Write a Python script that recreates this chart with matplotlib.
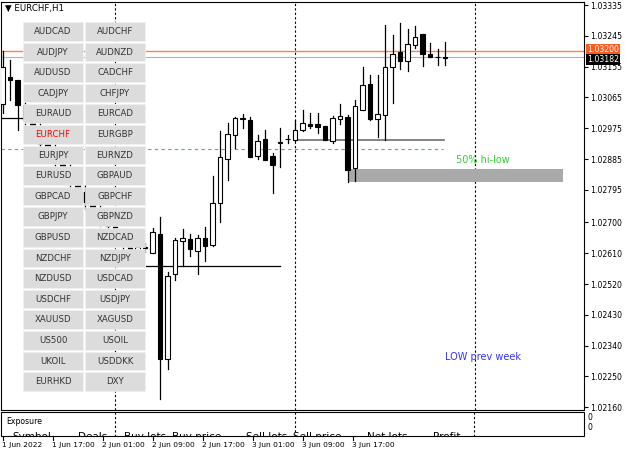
import numpy as np
import matplotlib
matplotlib.use('Agg')
import matplotlib.pyplot as plt
from matplotlib.patches import Rectangle

# hourly candles, hour index counted from 1 Jun 2022 00:00
hours = list(range(9, 69))
opens = [1.03046, 1.03125, 1.03116, 1.03043, 1.03000, 1.02960, 1.02930, 1.02900, 1.02880,
         1.02850, 1.02820, 1.02790, 1.02760, 1.02740, 1.02710, 1.02690, 1.02660, 1.02640,
         1.02620, 1.02628,
         1.02611, 1.02666, 1.02301, 1.02550, 1.02646, 1.02652, 1.02617, 1.02655, 1.02635,
         1.02757, 1.02885, 1.02955, 1.03005, 1.02999, 1.02894, 1.02944, 1.02894, 1.02932,
         1.02944, 1.02941, 1.02970, 1.02988, 1.02988, 1.02982, 1.02938, 1.03002, 1.03008,
         1.02859, 1.03028, 1.03104, 1.03002, 1.03014, 1.03154, 1.03198, 1.03171, 1.03218,
         1.03250, 1.03192, 1.03183, 1.03183]
closes = [1.03154, 1.03116, 1.03043, 1.03000, 1.02960, 1.02930, 1.02900, 1.02880, 1.02850,
          1.02820, 1.02790, 1.02760, 1.02740, 1.02710, 1.02690, 1.02660, 1.02640, 1.02620,
          1.02628, 1.02626,
          1.02671, 1.02301, 1.02544, 1.02649, 1.02655, 1.02622, 1.02655, 1.02631, 1.02757,
          1.02891, 1.02958, 1.03005, 1.03002, 1.02891, 1.02938, 1.02882, 1.02868, 1.02935,
          1.02945, 1.02970, 1.02990, 1.02982, 1.02979, 1.02941, 1.03005, 1.03011, 1.02853,
          1.03040, 1.03101, 1.03002, 1.03017, 1.03154, 1.03192, 1.03171, 1.03221, 1.03242,
          1.03192, 1.03183, 1.03183, 1.03180]
highs = [1.03200, 1.03174, 1.03116, 1.03060, 1.03020, 1.02990, 1.02950, 1.02930, 1.02900,
         1.02870, 1.02840, 1.02810, 1.02780, 1.02760, 1.02730, 1.02710, 1.02680, 1.02660,
         1.02640, 1.02640,
         1.02684, 1.02716, 1.02555, 1.02655, 1.02681, 1.02666, 1.02663, 1.02687, 1.02836,
         1.02967, 1.02990, 1.03008, 1.03017, 1.03008, 1.02955, 1.02970, 1.02903, 1.02976,
         1.02955, 1.02999, 1.03028, 1.03020, 1.03020, 1.02982, 1.03011, 1.03046, 1.03014,
         1.03058, 1.03154, 1.03131, 1.03131, 1.03277, 1.03247, 1.03282, 1.03265, 1.03274,
         1.03250, 1.03224, 1.03207, 1.03227]
lows = [1.03020, 1.03058, 1.02970, 1.02980, 1.02940, 1.02910, 1.02880, 1.02860, 1.02830,
        1.02800, 1.02770, 1.02740, 1.02720, 1.02690, 1.02670, 1.02640, 1.02620, 1.02600,
        1.02605, 1.02615,
        1.02611, 1.02185, 1.02272, 1.02532, 1.02573, 1.02602, 1.02550, 1.02587, 1.02631,
        1.02701, 1.02824, 1.02917, 1.02976, 1.02891, 1.02885, 1.02882, 1.02786, 1.02862,
        1.02932, 1.02938, 1.02967, 1.02976, 1.02961, 1.02941, 1.02932, 1.02988, 1.02818,
        1.02821, 1.03028, 1.02999, 1.02950, 1.02941, 1.03049, 1.03148, 1.03142, 1.03209,
        1.03157, 1.03183, 1.03160, 1.03160]

ytick_vals = [1.03335, 1.03245, 1.03155, 1.03065, 1.02975, 1.02885, 1.02795,
              1.02700, 1.02610, 1.02520, 1.02430, 1.02340, 1.02250, 1.02160]
ytick_labels = ['%.5f' % v for v in ytick_vals]
day_starts = [24, 48, 72]
time_labels = ['1 Jun 2022', '1 Jun 17:00', '2 Jun 01:00', '2 Jun 09:00',
               '2 Jun 17:00', '3 Jun 01:00', '3 Jun 09:00', '3 Jun 17:00']
time_px = [3, 53, 103, 153, 203, 253, 303, 353]
headers = ['Symbol', 'Deals', 'Buy lots', 'Buy price', 'Sell lots', 'Sell price', 'Net lots', 'Profit']
header_px = [12, 78, 124, 172, 246, 293, 367, 433]
buttons = [('AUDCAD', 'AUDCHF'), ('AUDJPY', 'AUDNZD'), ('AUDUSD', 'CADCHF'), ('CADJPY', 'CHFJPY'),
           ('EURAUD', 'EURCAD'), ('EURCHF', 'EURGBP'), ('EURJPY', 'EURNZD'), ('EURUSD', 'GBPAUD'),
           ('GBPCAD', 'GBPCHF'), ('GBPJPY', 'GBPNZD'), ('GBPUSD', 'NZDCAD'), ('NZDCHF', 'NZDJPY'),
           ('NZDUSD', 'USDCAD'), ('USDCHF', 'USDJPY'), ('XAUUSD', 'XAGUSD'), ('US500', 'USOIL'),
           ('UKOIL', 'USDDKK'), ('EURHKD', 'DXY')]
ask = 1.03200
bid = 1.03182

W, H = 625, 454
fig = plt.figure(figsize=(W / 100, H / 100), dpi=100)
fs = 6.2
afs = 5.6

# main chart
ax = fig.add_axes([1 / W, 1 - 410 / H, 583 / W, 408 / H])
ax.set_xlim(8.8, 86.5)
ax.set_ylim(1.02152, 1.03344)
for h, o, c, hi, lo in zip(hours, opens, closes, highs, lows):
    ax.plot([h, h], [lo, hi], color='black', lw=0.9, zorder=2)
    bottom = min(o, c)
    height = max(abs(c - o), 0.000012)
    ax.add_patch(Rectangle((h - 0.3, bottom), 0.6, height,
                           facecolor='black' if c < o else 'white',
                           edgecolor='black', lw=0.8, zorder=3))
for d in day_starts:
    ax.axvline(d, color='black', ls=(0, (2, 2)), lw=0.8, zorder=1)
ax.axhline(ask, color='#ff7f50', lw=1.0, zorder=1)
ax.axhline(bid, color='#b0b0b0', lw=0.8, zorder=1)
ax.plot([8.8, 67.7], [1.02914, 1.02914], color='#32cd32', ls=(0, (3, 3)), lw=0.8, zorder=1)
ax.plot([8.8, 12], [1.03005, 1.03005], color='black', lw=0.9, zorder=1)
ax.plot([28.1, 46], [1.02573, 1.02573], color='black', lw=0.9, zorder=1)
ax.plot([48, 67.9], [1.02941, 1.02941], color='#707070', lw=1.2, zorder=1)
ax.add_patch(Rectangle((55, 1.02818), 28.7, 0.00038, facecolor='#a9a9a9', edgecolor='none', zorder=1))
ax.text(69.5, 1.02882, '50% hi-low', color='#32cd32', fontsize=7, va='center')
ax.text(68, 1.02308, 'LOW prev week', color='#3333ff', fontsize=7, va='center')

ax.yaxis.tick_right()
ax.set_yticks(ytick_vals)
ax.set_yticklabels(ytick_labels, fontsize=afs)
ax.tick_params(axis='y', length=3, width=0.8, pad=1.5)
ax.set_xticks([])
for s in ax.spines.values():
    s.set_linewidth(0.8)
for val, fc, dy in [(ask, '#ff5a1f', 1.5), (bid, 'black', -1.5)]:
    ax.annotate('%.5f' % val, xy=(1.0, val), xycoords=('axes fraction', 'data'),
                xytext=(2, dy), textcoords='offset points', fontsize=afs, color='white',
                va='center', ha='left',
                bbox=dict(boxstyle='square,pad=0.15', fc=fc, ec='none'), zorder=5)

# overlay in pixel coordinates
ov = fig.add_axes([0, 0, 1, 1], facecolor='none')
ov.set_xlim(0, W)
ov.set_ylim(H, 0)
ov.axis('off')
ov.text(5, 8, '\u25bc EURCHF,H1', fontsize=fs, va='center', ha='left')
for i, (a, b) in enumerate(buttons):
    y0 = 22 + i * 20.6
    for j, name in enumerate((a, b)):
        x0 = 23 + j * 62
        ov.add_patch(Rectangle((x0, y0), 60, 18.5, facecolor='#dcdcdc', edgecolor='#f0f0f0', lw=0.5))
        ov.text(x0 + 30, y0 + 9.5, name, fontsize=fs, ha='center', va='center',
                color='red' if name == 'EURCHF' else '#333333')

# exposure subwindow
panel = Rectangle((1, 412), 583, 24, facecolor='white', edgecolor='black', lw=0.8)
ov.add_patch(panel)
ov.text(6, 421, 'Exposure', fontsize=afs, va='center')
for x, t in zip(header_px, headers):
    txt = ov.text(x, 437, t, fontsize=7.5, va='center', ha='left', clip_on=True)
    txt.set_clip_path(panel)
for x in [115, 295, 474]:
    ov.plot([x, x], [412, 436], color='black', ls=(0, (2, 2)), lw=0.8)
ov.text(588, 418, '0', fontsize=afs, va='center')
ov.text(588, 428, '0', fontsize=afs, va='center')
for x, t in zip(time_px, time_labels):
    ov.plot([x, x], [436, 440], color='black', lw=0.8)
    ov.text(x - 1, 445, t, fontsize=5.4, va='center', ha='left')

fig.savefig('out.png', dpi=100)
